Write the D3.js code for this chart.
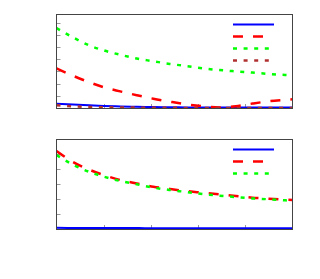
<!DOCTYPE html>
<html>
<head>
<meta charset="utf-8">
<style>
  body { margin: 0; background: #fff; }
  svg { display: block; }
</style>
</head>
<body>
<div class="plot_container"></div>
<script src="https://cdn.jsdelivr.net/npm/d3@7/dist/d3.min.js"></script>
<script>
// shared x positions
var xs = [0, 0.35, 0.7, 1.0, 1.35, 1.7, 2.05, 2.4, 2.75, 3.1, 3.45, 3.8, 4.15, 4.5, 4.85, 5.0];

// top panel series
var topBlue  = [0.35, 0.28, 0.22, 0.17, 0.13, 0.10, 0.08, 0.06, 0.05, 0.045, 0.04, 0.04, 0.04, 0.04, 0.04, 0.04];
var topRed   = [3.25, 2.64, 2.10, 1.70, 1.36, 1.05, 0.76, 0.52, 0.30, 0.14, 0.04, 0.14, 0.36, 0.55, 0.67, 0.72];
var topGreen = [6.55, 5.78, 5.12, 4.72, 4.36, 4.05, 3.83, 3.61, 3.44, 3.25, 3.11, 3.00, 2.90, 2.79, 2.70, 2.67];
var topBrown = [0.22, 0.14, 0.09, 0.06, 0.04, 0.03, 0.02, 0.015, 0.01, 0.01, 0.01, 0.01, 0.01, 0.01, 0.01, 0.01];

// bottom panel series
var botBlue  = [0.08, 0.07, 0.07, 0.06, 0.06, 0.06, 0.05, 0.05, 0.05, 0.05, 0.05, 0.05, 0.05, 0.05, 0.05, 0.05];
var botRed   = [5.20, 4.47, 3.95, 3.60, 3.27, 3.04, 2.82, 2.67, 2.53, 2.42, 2.31, 2.20, 2.09, 2.02, 1.96, 1.94];
var botGreen = [4.93, 4.29, 3.80, 3.49, 3.20, 2.98, 2.76, 2.60, 2.47, 2.33, 2.22, 2.13, 2.04, 1.98, 1.91, 1.89];

var xTicks = [1, 2, 3, 4];
var topYTicks = [1, 2, 3, 4, 5, 6, 7];
var botYTicks = [1, 2, 3, 4, 5];

var width = 320, height = 279;
var svg = d3.select(".plot_container").append("svg")
    .attr("width", width)
    .attr("height", height);

svg.append("rect").attr("width", width).attr("height", height).attr("fill", "#fff");

// legend length differs per style (ends on a full dash)
var styles = {
    blue:  { color: "#0000ff", width: 2,   dash: null,    len: 41 },
    red:   { color: "#ff0000", width: 2.5, dash: "10,10", len: 30 },
    green: { color: "#00ff00", width: 2.5, dash: "4,6.6", len: 36 },
    brown: { color: "#b03030", width: 2.5, dash: "4,6.6", len: 36 }
};

function panel(top, bottom, yMax, yTicks, series, legendY) {
    var x = d3.scaleLinear().domain([0, 5]).range([56.5, 292.5]);
    var y = d3.scaleLinear().domain([0, yMax]).range([bottom, top]);
    var g = svg.append("g");

    // ticks inward
    g.selectAll(".yt").data(yTicks).enter().append("line")
        .attr("x1", x(0)).attr("x2", x(0) + 4)
        .attr("y1", function(d){ return Math.round(y(d)) + 0.5; })
        .attr("y2", function(d){ return Math.round(y(d)) + 0.5; })
        .attr("stroke", "#999").attr("stroke-width", 1);
    g.selectAll(".xt").data(xTicks).enter().append("line")
        .attr("x1", function(d){ return Math.round(x(d)) + 0.5; })
        .attr("x2", function(d){ return Math.round(x(d)) + 0.5; })
        .attr("y1", bottom).attr("y2", bottom - 4)
        .attr("stroke", "#999").attr("stroke-width", 1);

    var clip = "clip" + Math.round(top);
    svg.append("clipPath").attr("id", clip).append("rect")
        .attr("x", x(0)).attr("y", top).attr("width", x(5) - x(0)).attr("height", bottom - top);

    var line = d3.line()
        .x(function(d){ return x(d[0]); })
        .y(function(d){ return y(d[1]); })
        .curve(d3.curveMonotoneX);

    series.forEach(function(s){
        var st = styles[s.key];
        g.append("path")
            .datum(xs.map(function(v, i){ return [v, s.values[i]]; }))
            .attr("clip-path", "url(#" + clip + ")")
            .attr("d", line)
            .attr("fill", "none")
            .attr("stroke", st.color)
            .attr("stroke-width", st.width)
            .attr("stroke-dasharray", st.dash);
    });

    // legend
    series.forEach(function(s, i){
        var st = styles[s.key];
        var ly = legendY + i * 12;
        g.append("line")
            .attr("x1", 233).attr("x2", 233 + st.len)
            .attr("y1", ly).attr("y2", ly)
            .attr("stroke", st.color)
            .attr("stroke-width", st.width)
            .attr("stroke-dasharray", st.dash);
    });

    // frame
    g.append("rect")
        .attr("x", x(0)).attr("y", top + 0.5)
        .attr("width", x(5) - x(0)).attr("height", bottom - top)
        .attr("fill", "none").attr("stroke", "#444").attr("stroke-width", 1);
}

panel(14, 108, 7.7, topYTicks, [
    { key: "blue",  values: topBlue },
    { key: "red",   values: topRed },
    { key: "green", values: topGreen },
    { key: "brown", values: topBrown }
], 24.5);

panel(139, 229, 6, botYTicks, [
    { key: "blue",  values: botBlue },
    { key: "red",   values: botRed },
    { key: "green", values: botGreen }
], 149.5);
</script>
</body>
</html>
